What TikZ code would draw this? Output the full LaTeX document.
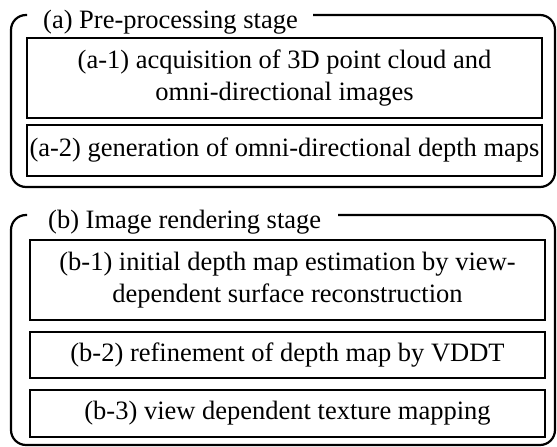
\documentclass[tikz,border=0pt]{standalone}
\usepackage{fontspec}
\setmainfont{Liberation Serif}
\begin{document}
\begin{tikzpicture}[x=1pt,y=-1pt,
  frame/.style={line width=2.2pt,rounded corners=15pt},
  stepbox/.style={draw,line width=1.6pt,minimum width=515pt,inner sep=0pt,align=center,font=\fontsize{26.5}{32}\selectfont},
  title/.style={anchor=base west,inner sep=0pt,font=\fontsize{26.5}{32}\selectfont}]
\useasboundingbox (0,0) rectangle (557,447);
% frame a
\draw[frame] (313,15) -- (555,15) -- (555,187) -- (11,187) -- (11,15) -- (27,15);
\node[title] (ta) at (43,28) {(a) Pre-processing stage};
\node[stepbox,minimum height=80pt] (a1) at (284.5,78) {(a-1) acquisition of 3D point cloud and\\omni-directional images};
\node[stepbox,minimum height=51pt] (a2) at (284.5,150.5) {(a-2) generation of omni-directional depth maps};
% frame b
\draw[frame] (338,215) -- (555,215) -- (555,445) -- (11,445) -- (11,215) -- (27,215);
\node[title] (tb) at (48,228) {(b) Image rendering stage};
\node[stepbox,minimum height=80pt] (b1) at (287.5,280) {(b-1) initial depth map estimation by view-\\dependent surface reconstruction};
\node[stepbox,minimum height=46pt] (b2) at (287.5,355) {(b-2) refinement of depth map by VDDT};
\node[stepbox,minimum height=47pt] (b3) at (287.5,413.5) {(b-3) view dependent texture mapping};
\end{tikzpicture}
\end{document}
